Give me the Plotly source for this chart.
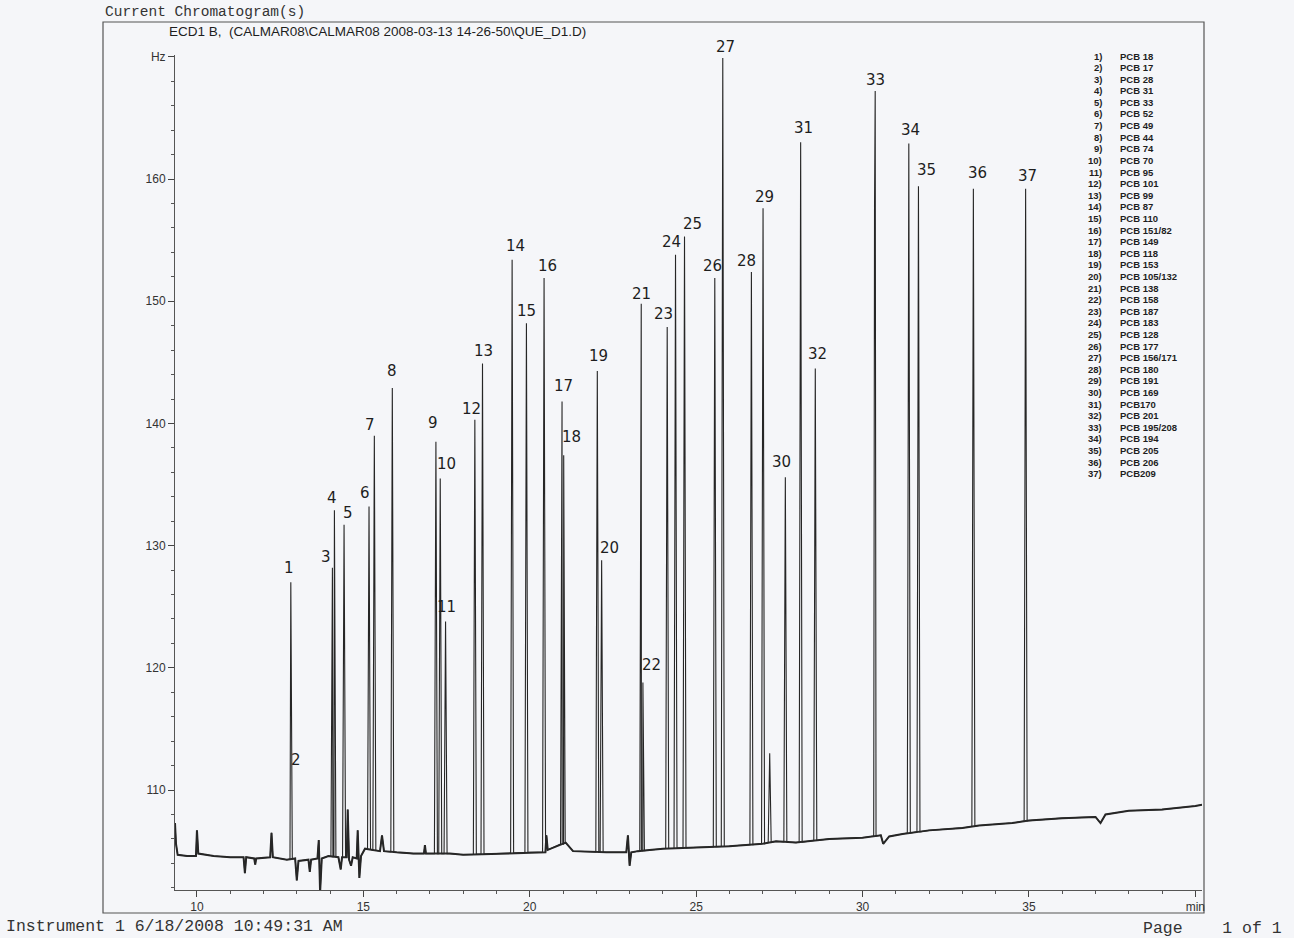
import numpy as np
import plotly.graph_objects as go

# ---------------- data ----------------
peak_ids = [str(i) for i in range(1, 38)]
peak_rt = [12.82, 12.84, 14.07, 14.13, 14.42, 15.17, 15.33, 15.87, 17.18, 17.31,
           17.47, 18.35, 18.58, 19.47, 19.90, 20.43, 20.97, 21.02, 22.03, 22.16,
           23.35, 23.40, 24.13, 24.38, 24.65, 25.56, 25.80, 26.66, 27.01, 27.68,
           28.14, 28.58, 30.38, 31.39, 31.68, 33.33, 34.90]
peak_hz = [127.0, 111.6, 128.2, 132.9, 131.7, 133.2, 139.0, 142.9, 138.5, 135.5,
           123.8, 140.3, 144.9, 153.4, 148.2, 151.9, 141.8, 137.4, 144.3, 128.8,
           149.8, 118.8, 147.9, 153.8, 155.3, 151.9, 169.9, 152.4, 157.6, 135.6,
           163.0, 144.5, 167.2, 162.9, 159.4, 159.2, 159.2]

# unnumbered peaks
extra_rt = [27.21, 30.36]
extra_hz = [113.0, 157.7]

# baseline (with noise spikes / dips)
base_t = [9.34, 9.37, 9.42, 9.70, 9.97, 10.00, 10.04, 10.50, 11.00, 11.40, 11.44, 11.48,
          11.72, 11.75, 11.78, 12.20, 12.24, 12.28, 12.70, 12.95, 13.00, 13.05, 13.35,
          13.39, 13.43, 13.62, 13.66, 13.70, 13.75, 13.95, 14.25, 14.32, 14.36, 14.50,
          14.53, 14.57, 14.63, 14.68, 14.80, 14.83, 14.88, 14.93, 15.05, 15.50, 15.56,
          15.62, 16.00, 16.50, 16.82, 16.85, 16.88, 17.60, 18.00, 19.00, 20.00, 20.47,
          20.50, 20.54, 21.08, 21.30, 22.30, 22.90, 22.95, 23.00, 23.05, 23.25, 23.60,
          24.00, 25.00, 26.00, 27.00, 27.40, 28.00, 29.00, 30.00, 30.55, 30.62, 30.80,
          31.20, 32.00, 33.00, 33.50, 34.50, 35.00, 36.00, 37.00, 37.15, 37.30, 38.00,
          39.00, 40.00, 40.20]
base_hz = [107.3, 105.6, 104.7, 104.6, 104.6, 106.7, 104.8, 104.6, 104.5, 104.5, 103.2, 104.5,
           104.4, 103.9, 104.4, 104.5, 106.5, 104.5, 104.3, 104.4, 102.6, 104.2, 104.3,
           103.3, 104.3, 104.4, 105.9, 101.6, 104.4, 104.6, 104.5, 103.5, 104.5, 104.5,
           108.4, 104.3, 103.8, 104.5, 104.4, 106.7, 102.8, 104.6, 105.2, 105.0, 106.3,
           105.0, 104.9, 104.8, 104.8, 105.5, 104.8, 104.8, 104.7, 104.8, 104.9, 104.9,
           106.3, 105.1, 105.7, 105.0, 104.9, 104.9, 106.3, 103.8, 104.9, 105.0, 105.1,
           105.2, 105.3, 105.4, 105.6, 105.8, 105.7, 106.0, 106.1, 106.3, 105.6, 106.2,
           106.4, 106.7, 106.9, 107.1, 107.3, 107.5, 107.7, 107.8, 107.3, 108.0, 108.3,
           108.4, 108.7, 108.8]

legend_names = ["PCB 18", "PCB 17", "PCB 28", "PCB 31", "PCB 33", "PCB 52", "PCB 49",
                "PCB 44", "PCB 74", "PCB 70", "PCB 95", "PCB 101", "PCB 99", "PCB 87",
                "PCB 110", "PCB 151/82", "PCB 149", "PCB 118", "PCB 153", "PCB 105/132",
                "PCB 138", "PCB 158", "PCB 187", "PCB 183", "PCB 128", "PCB 177",
                "PCB 156/171", "PCB 180", "PCB 191", "PCB 169", "PCB170", "PCB 201",
                "PCB 195/208", "PCB 194", "PCB 205", "PCB 206", "PCB209"]

y_tickvals = [110, 120, 130, 140, 150, 160, 170]
y_ticktext = ["110", "120", "130", "140", "150", "160", "Hz"]
x_tickvals = [10, 15, 20, 25, 30, 35, 40]
x_ticktext = ["10", "15", "20", "25", "30", "35", "min"]

# ---------------- layout / style (not data) ----------------
# label offsets (px) of the hand-written numbers relative to each apex
label_dx = [-2, 5, -6, -2, 4, -4, -4, 0, -3, 6, 1, -3, 1, 3, 0, 3, 1, 8, 1, 8,
            0, 9, -4, -4, 8, -2, 3, -5, 1, -4, 3, 2, 0, 2, 8, 4, 2]
label_dy = [14, 10, 11, 12, 12, 14, 11, 17, 19, 14, 14, 11, 13, 14, 12, 12, 15, 18, 15, 12,
            10, 18, 13, 13, 12, 12, 11, 11, 11, 15, 14, 14, 11, 14, 16, 16, 13]

W, H = 1294, 938
L, R, T, B = 175, 92, 55, 48
HW = 0.045  # half base width of a drawn peak, in minutes

# build the polyline of the chromatogram from the data
all_rt = peak_rt + extra_rt
all_hz = peak_hz + extra_hz
pts = []
for t, h in zip(all_rt, all_hz):
    b = float(np.interp(t, base_t, base_hz))
    pts += [(t - HW, b), (t, h), (t + HW, b)]
for t, v in zip(base_t, base_hz):
    if not any(abs(t - p) < HW * 1.05 for p in all_rt):
        pts.append((t, v))
pts.sort(key=lambda p: p[0])
sx = [p[0] for p in pts]
sy = [p[1] for p in pts]

fig = go.Figure()
fig.add_trace(go.Scatter(x=base_t, y=base_hz, mode="lines",
                         line=dict(color="#2a2a2a", width=2.0), hoverinfo="skip",
                         showlegend=False))
fig.add_trace(go.Scatter(x=sx, y=sy, mode="lines",
                         line=dict(color="#262626", width=1.1), showlegend=False))

ann = []
hand_font = dict(family="DejaVu Sans, sans-serif", size=15, color="#1e1e1e")
for i, lab in enumerate(peak_ids):
    ann.append(dict(x=peak_rt[i], y=peak_hz[i], xref="x", yref="y", text=lab,
                    showarrow=False, xanchor="center", yanchor="middle",
                    xshift=label_dx[i], yshift=label_dy[i], font=hand_font))


def px_to_paper_x(px):
    return (px - L) / (W - L - R)


def px_to_paper_y(py):
    return (H - B - py) / (H - T - B)


leg_font = dict(family="Liberation Sans, Arial, sans-serif", size=9.5, color="#1e1e1e")
for i, name in enumerate(legend_names):
    yy = px_to_paper_y(56 + i * 11.6)
    ann.append(dict(x=px_to_paper_x(1104), y=yy, xref="paper", yref="paper",
                    text="<b>%d)</b>" % (i + 1), showarrow=False, xanchor="right",
                    yanchor="middle", font=leg_font))
    ann.append(dict(x=px_to_paper_x(1118), y=yy, xref="paper", yref="paper",
                    text="<b>%s</b>" % name, showarrow=False, xanchor="left",
                    yanchor="middle", font=leg_font))

mono = "Liberation Mono, Courier New, monospace"
ann.append(dict(x=px_to_paper_x(103), y=px_to_paper_y(12), xref="paper", yref="paper",
                text="Current Chromatogram(s)", showarrow=False, xanchor="left",
                yanchor="middle", font=dict(family=mono, size=14.5, color="#333")))
ann.append(dict(x=px_to_paper_x(167), y=px_to_paper_y(32), xref="paper", yref="paper",
                text="ECD1 B,  (CALMAR08\\CALMAR08 2008-03-13 14-26-50\\QUE_D1.D)",
                showarrow=False, xanchor="left", yanchor="middle",
                font=dict(family="Liberation Sans, Arial, sans-serif", size=13.5, color="#1e1e1e")))
ann.append(dict(x=px_to_paper_x(4), y=px_to_paper_y(926), xref="paper", yref="paper",
                text="Instrument 1 6/18/2008 10:49:31 AM", showarrow=False, xanchor="left",
                yanchor="middle", font=dict(family=mono, size=16.5, color="#333")))
ann.append(dict(x=px_to_paper_x(1284), y=px_to_paper_y(928), xref="paper", yref="paper",
                text="Page    1 of 1", showarrow=False, xanchor="right",
                yanchor="middle", font=dict(family=mono, size=16.5, color="#333")))

shapes = [dict(type="rect", xref="paper", yref="paper",
               x0=px_to_paper_x(103), x1=px_to_paper_x(1204),
               y0=px_to_paper_y(913), y1=px_to_paper_y(22),
               line=dict(color="#555", width=1.2), fillcolor="rgba(0,0,0,0)", layer="below")]

tick_font = dict(family="Liberation Sans, Arial, sans-serif", size=12, color="#333")
fig.update_layout(
    width=W, height=H,
    margin=dict(l=L, r=R, t=T, b=B, pad=0),
    paper_bgcolor="#f5f6f9", plot_bgcolor="rgba(0,0,0,0)",
    showlegend=False,
    annotations=ann, shapes=shapes,
    xaxis=dict(range=[9.34, 40.2], tickvals=x_tickvals, ticktext=x_ticktext,
               ticks="outside", ticklen=6, tickwidth=1, tickcolor="#444",
               showline=True, linecolor="#555", linewidth=1, mirror=False,
               showgrid=False, zeroline=False, tickfont=tick_font,
               minor=dict(dtick=1, tick0=10, ticks="outside", ticklen=3, tickcolor="#555",
                          showgrid=False)),
    yaxis=dict(range=[101.82, 170.15], tickvals=y_tickvals, ticktext=y_ticktext,
               ticks="outside", ticklen=6, tickwidth=1, tickcolor="#444",
               showline=True, linecolor="#555", linewidth=1, mirror=False,
               showgrid=False, zeroline=False, tickfont=tick_font,
               minor=dict(dtick=2, tick0=110, ticks="outside", ticklen=3, tickcolor="#555",
                          showgrid=False)),
)

fig.write_html("out.html", config={"displayModeBar": False},
               post_script="document.body.style.margin='0';document.body.style.overflow='hidden';")
